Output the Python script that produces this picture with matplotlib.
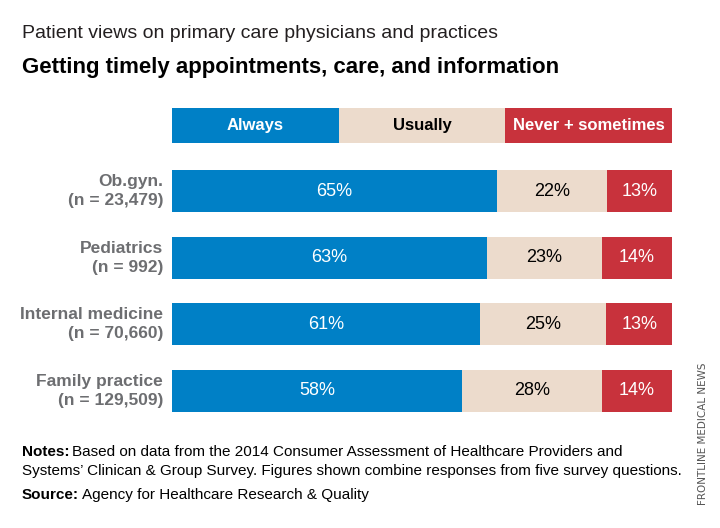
import matplotlib
matplotlib.use("Agg")
import matplotlib.pyplot as plt
from matplotlib import font_manager

names = {f.name for f in font_manager.fontManager.ttflist}
COND = "Liberation Sans Narrow" if "Liberation Sans Narrow" in names else "Liberation Sans"
plt.rcParams['font.family'] = [COND, 'DejaVu Sans']

categories = ["Ob.gyn.\n(n = 23,479)", "Pediatrics\n(n = 992)",
              "Internal medicine\n(n = 70,660)", "Family practice\n(n = 129,509)"]
always = [65, 63, 61, 58]
usually = [22, 23, 25, 28]
never = [13, 14, 13, 14]
series_names = ["Always", "Usually", "Never + sometimes"]
colors = ["#0080c6", "#ecdbcc", "#c8323c"]
text_colors = ["white", "black", "white"]

W, H = 720, 528
fig = plt.figure(figsize=(W / 100, H / 100), dpi=100)

def px_axes(x0, y0, x1, y1):
    return fig.add_axes([x0 / W, 1 - y1 / H, (x1 - x0) / W, (y1 - y0) / H])

# Legend strip
lax = px_axes(172, 108, 672, 143)
for i, (name, c, tc) in enumerate(zip(series_names, colors, text_colors)):
    lax.barh(0, 1, left=i, height=1, color=c, edgecolor='none')
    lax.text(i + 0.5, 0, name, ha='center', va='center', color=tc,
             fontsize=12, fontweight='bold')
lax.set_xlim(0, 3)
lax.set_ylim(-0.5, 0.5)
lax.axis('off')

# Main bars (each row drawn as shares of its total)
ax = px_axes(172, 158, 672, 424)
ypos = list(range(len(categories)))
totals = [a + u + n for a, u, n in zip(always, usually, never)]
lefts = [0.0] * len(categories)
for vals, c, tc in zip([always, usually, never], colors, text_colors):
    widths = [v * 100.0 / t for v, t in zip(vals, totals)]
    ax.barh(ypos, widths, left=lefts, height=0.63, color=c, edgecolor='none')
    for y, v, w, l in zip(ypos, vals, widths, lefts):
        ax.text(l + w / 2, y, f"{v}%", ha='center', va='center', color=tc,
                fontsize=13)
    lefts = [l + w for l, w in zip(lefts, widths)]
ax.set_xlim(0, 100)
ax.set_ylim(len(categories) - 0.5, -0.5)
ax.axis('off')
for y, cat in zip(ypos, categories):
    ax.text(-1.8, y, cat, ha='right', va='center', color='#6d6e71',
            fontsize=12.5, fontweight='bold', linespacing=1.3)

# Titles
fig.text(22 / W, 1 - 33 / H, "Patient views on primary care physicians and practices",
         fontsize=14, color='#231f20', va='center', ha='left')
fig.text(22 / W, 1 - 68 / H, "Getting timely appointments, care, and information",
         fontsize=16, fontweight='bold', color='black', va='center', ha='left')

# Notes
t1 = fig.text(22 / W, 1 - 452 / H, "Notes:", fontsize=11, fontweight='bold',
              va='center', ha='left', color='black')
t2 = fig.text(22 / W, 1 - 495 / H, "Source:", fontsize=11, fontweight='bold',
              va='center', ha='left')
fig.canvas.draw()
bb = t1.get_window_extent()
fig.text((bb.x1 + 3) / W, 1 - 452 / H,
         "Based on data from the 2014 Consumer Assessment of Healthcare Providers and",
         fontsize=11, va='center', ha='left')
fig.text(22 / W, 1 - 471 / H,
         "Systems\u2019 Clinican & Group Survey. Figures shown combine responses from five survey questions.",
         fontsize=11, va='center', ha='left')
bb2 = t2.get_window_extent()
fig.text((bb2.x1 + 3) / W, 1 - 495 / H, "Agency for Healthcare Research & Quality",
         fontsize=11, va='center', ha='left')

fig.text(703 / W, 1 - 434 / H, "FRONTLINE MEDICAL NEWS", rotation=90,
         fontsize=7.5, color='#555555', va='center', ha='center',
         family=['DejaVu Sans'])

fig.savefig("out.png", dpi=100)
